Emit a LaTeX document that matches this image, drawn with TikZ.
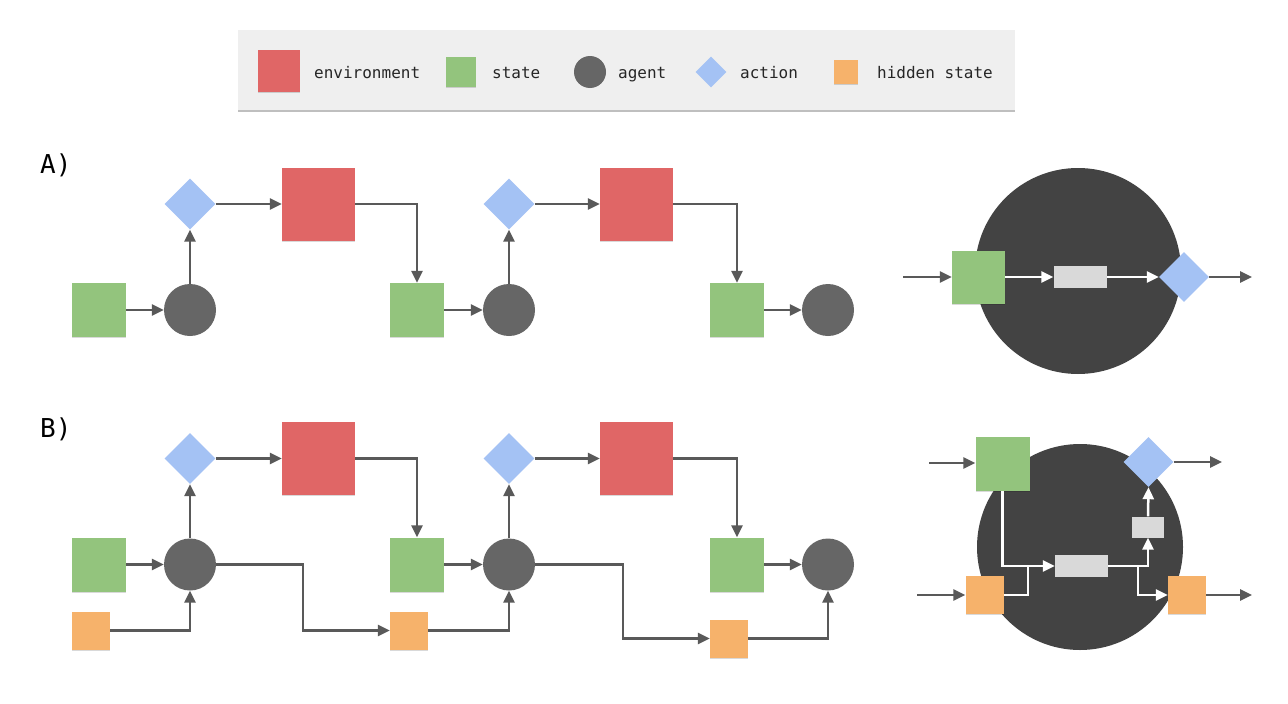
\documentclass[tikz,border=0pt]{standalone}
\usepackage{fontspec}
\setmonofont{DejaVu Sans Mono}
\usetikzlibrary{arrows.meta,shapes.geometric,shadows}
\definecolor{envred}{HTML}{E06666}
\definecolor{stgreen}{HTML}{93C47D}
\definecolor{aggray}{HTML}{666666}
\definecolor{bigdark}{HTML}{434343}
\definecolor{actblue}{HTML}{A4C2F4}
\definecolor{hidorange}{HTML}{F6B26B}
\definecolor{boxgray}{HTML}{D9D9D9}
\definecolor{cline}{HTML}{595959}
\definecolor{legbg}{HTML}{EFEFEF}
\tikzset{
  shd/.style={drop shadow={shadow xshift=0pt,shadow yshift=-1.2pt,opacity=0.15,fill=black}},
  conn/.style={draw=cline, line width=2.5pt, -{Triangle[length=12pt,width=11pt]}},
  wconn/.style={draw=white, line width=2.5pt, -{Triangle[length=12pt,width=11pt]}},
  wline/.style={draw=white, line width=2.5pt},
  envbox/.style={rectangle, fill=envred, minimum size=73pt, inner sep=0pt, shd},
  stbox/.style={rectangle, fill=stgreen, minimum size=54pt, inner sep=0pt, shd},
  agcirc/.style={circle, fill=aggray, minimum size=52pt, inner sep=0pt},
  actdia/.style={diamond, fill=actblue, minimum size=51pt, inner sep=0pt},
  hidbox/.style={rectangle, fill=hidorange, minimum size=38pt, inner sep=0pt, shd},
  graybox/.style={rectangle, fill=boxgray, inner sep=0pt},
  bigcirc/.style={circle, fill=bigdark, minimum size=206pt, inner sep=0pt},
  legtext/.style={font=\ttfamily\fontsize{16}{19}\selectfont, anchor=west, inner sep=0pt,
                  text height=11pt, text depth=3pt, text=black!85},
  rowlabel/.style={font=\ttfamily\fontsize{26}{31}\selectfont, anchor=west, inner sep=0pt,
                   text height=19pt, text depth=0pt, text=black}
}
\begin{document}
\begin{tikzpicture}[x=1pt,y=-1pt]
\useasboundingbox (0,0) rectangle (1288,704);
\fill[white] (0,0) rectangle (1288,704);

% legend
\node[rectangle, fill=legbg, minimum width=777pt, minimum height=80pt, inner sep=0pt,
      drop shadow={shadow xshift=0pt,shadow yshift=-1.5pt,opacity=0.25,fill=black}] (legend) at (626.5,70) {};
\node[rectangle, fill=envred, minimum size=42pt, inner sep=0pt, shd] (lenv) at (279,71) {};
\node[legtext] (tenv) at (314,74) {environment};
\node[rectangle, fill=stgreen, minimum size=30pt, inner sep=0pt, shd] (lst) at (461,72) {};
\node[legtext] (tst) at (492,74) {state};
\node[circle, fill=aggray, minimum size=32pt, inner sep=0pt] (lag) at (590,72) {};
\node[legtext] (tag) at (618,74) {agent};
\node[diamond, fill=actblue, minimum size=31pt, inner sep=0pt] (lact) at (711,72) {};
\node[legtext] (tact) at (740,74) {action};
\node[rectangle, fill=hidorange, minimum size=24pt, inner sep=0pt, shd] (lhid) at (846,72) {};
\node[legtext] (thid) at (877,74) {hidden state};

% row labels
\node[rowlabel] (labA) at (40,164) {A)};
\node[rowlabel] (labB) at (40,428) {B)};

% ===== Row A =====
\node[stbox] (sA1) at (99,310) {};
\node[agcirc] (aA1) at (190,310) {};
\node[actdia] (dA1) at (190,204) {};
\node[envbox] (eA1) at (318.5,204.5) {};
\node[stbox] (sA2) at (417,310) {};
\node[agcirc] (aA2) at (509,310) {};
\node[actdia] (dA2) at (509,204) {};
\node[envbox] (eA2) at (636.5,204.5) {};
\node[stbox] (sA3) at (737,310) {};
\node[agcirc] (aA3) at (828,310) {};

\draw[conn] (sA1) -- (aA1);
\draw[conn] (aA1) -- (dA1);
\draw[conn] (dA1) -- (eA1.west |- dA1);
\draw[conn] (eA1.east |- dA1) -| (sA2.north);
\draw[conn] (sA2) -- (aA2);
\draw[conn] (aA2) -- (dA2);
\draw[conn] (dA2) -- (eA2.west |- dA2);
\draw[conn] (eA2.east |- dA2) -| (sA3.north);
\draw[conn] (sA3) -- (aA3);

% ===== Row B =====
\node[stbox] (sB1) at (99,564.5) {};
\node[agcirc] (aB1) at (190,564.5) {};
\node[actdia] (dB1) at (190,458.5) {};
\node[envbox] (eB1) at (318.5,458.5) {};
\node[stbox] (sB2) at (417,564.5) {};
\node[agcirc] (aB2) at (509,564.5) {};
\node[actdia] (dB2) at (509,458.5) {};
\node[envbox] (eB2) at (636.5,458.5) {};
\node[stbox] (sB3) at (737,564.5) {};
\node[agcirc] (aB3) at (828,564.5) {};
\node[hidbox] (hB1) at (91,630.5) {};
\node[hidbox] (hB2) at (409,630.5) {};
\node[hidbox] (hB3) at (729,638.5) {};

\draw[conn] (sB1) -- (aB1);
\draw[conn] (aB1) -- (dB1);
\draw[conn] (dB1) -- (eB1.west |- dB1);
\draw[conn] (eB1.east |- dB1) -| (sB2.north);
\draw[conn] (sB2) -- (aB2);
\draw[conn] (aB2) -- (dB2);
\draw[conn] (dB2) -- (eB2.west |- dB2);
\draw[conn] (eB2.east |- dB2) -| (sB3.north);
\draw[conn] (sB3) -- (aB3);
\draw[conn] (hB1.east) -| (aB1.south);
\draw[conn] (aB1.east) -- ++(87,0) |- (hB2.west);
\draw[conn] (hB2.east) -| (aB2.south);
\draw[conn] (aB2.east) -- ++(88,0) |- (hB3.west);
\draw[conn] (hB3.east) -| (aB3.south);

% ===== Right A =====
\node[bigcirc] (bigA) at (1078,271) {};
\coordinate (inA) at (903,277);
\coordinate (outA) at (1252,277);
\node[stbox, minimum size=53pt] (sRA) at (978.5,277) {};
\node[graybox, minimum width=53pt, minimum height=22pt] (gRA) at (1080,277) {};
\node[actdia, minimum size=50pt] (dRA) at (1184,277) {};
\draw[conn] (inA) -- (sRA);
\draw[wconn] (sRA) -- (gRA);
\draw[wconn] (gRA) -- (dRA);
\draw[conn] (dRA) -- (outA);

% ===== Right B =====
\node[bigcirc] (bigB) at (1080,547) {};
\coordinate (inB1) at (929,463);
\coordinate (outB1) at (1222,462);
\coordinate (inB2) at (917,595);
\coordinate (outB2) at (1252,595);
\node[stbox, minimum size=54pt] (sRB) at (1002.5,464) {};
\node[actdia, minimum size=50pt] (dRB) at (1148.5,462) {};
\node[hidbox] (hRB1) at (984.5,595) {};
\node[hidbox] (hRB2) at (1187,595) {};
\node[graybox, minimum width=53pt, minimum height=22pt] (gRB) at (1081.5,566) {};
\node[graybox, minimum width=32pt, minimum height=21pt] (gRB2) at (1148,527) {};
\coordinate (jL) at (1028,566);
\coordinate (jR) at (1138,566);

\draw[conn] (inB1) -- (sRB.west |- inB1);
\draw[conn] (dRB.east) -- (outB1);
\draw[conn] (inB2) -- (hRB1.west);
\draw[conn] (hRB2.east) -- (outB2);
\draw[wconn] (sRB.south) |- (gRB.west);
\draw[wline] (hRB1.east) -| (jL);
\draw[wconn] (gRB.east) -| (gRB2.south);
\draw[wconn] (jR) |- (hRB2.west);
\draw[wconn] (gRB2.north) -- (dRB.south);
\end{tikzpicture}
\end{document}
